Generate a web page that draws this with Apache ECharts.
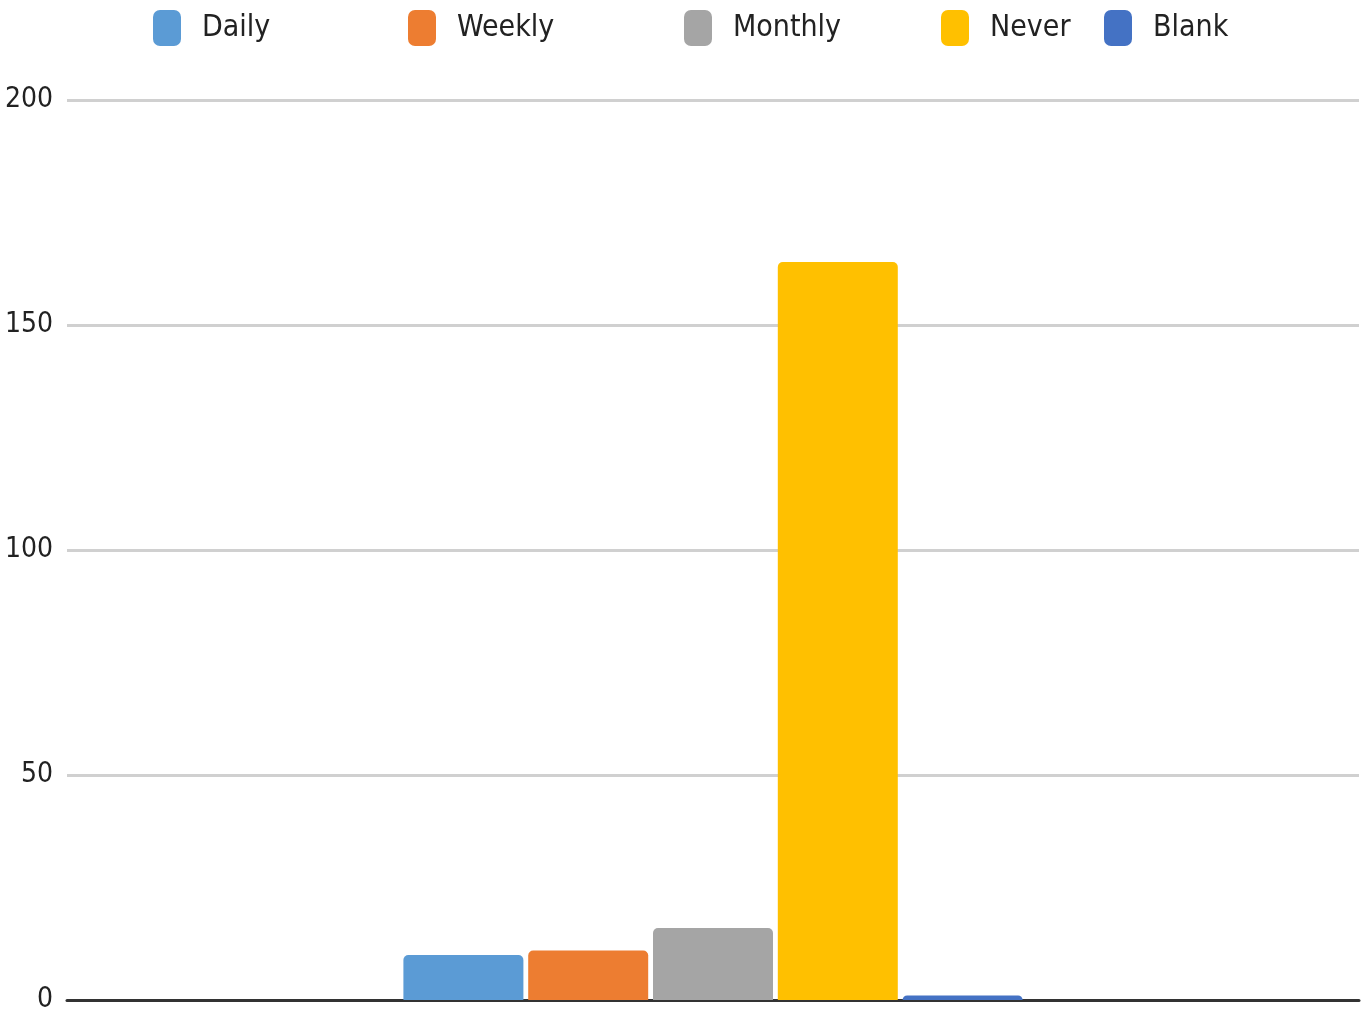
<!DOCTYPE html>
<html>
<head>
<meta charset="utf-8">
<script src="https://cdn.jsdelivr.net/npm/echarts@6/dist/echarts.min.js"></script>
<style>
  html, body { margin: 0; padding: 0; background: #fff; }
  #chart { width: 1369px; height: 1015px; }
</style>
</head>
<body>
<div id="chart"></div>
<script>
    // ========= 数据 =========
    const seriesNames = ["Daily", "Weekly", "Monthly", "Never", "Blank"];
    const seriesValues = [10, 11, 16, 164, 1];
    const seriesColors = ["#5B9BD5", "#ED7D31", "#A5A5A5", "#FFC000", "#4472C4"];
    const categories = [""];
    const yTicks = [0, 50, 100, 150, 200];

    const font = "'Liberation Sans Narrow', 'DejaVu Sans Condensed', sans-serif";

    // 图例位置（原图中间距不均匀，所以分开放）
    const legendLeft = [153, 408, 684, 941, 1104];

    const chart = echarts.init(document.getElementById("chart"));

    chart.setOption({
        animation: false,
        textStyle: { fontFamily: font },
        legend: seriesNames.map((name, i) => ({
            data: [name],
            left: legendLeft[i],
            top: 10,
            padding: 0,
            icon: "roundRect",
            itemWidth: 28,
            itemHeight: 36,
            itemGap: 0,
            textStyle: { fontSize: 30, color: "#222", fontFamily: font, padding: [4, 0, 0, 16] }
        })),
        grid: { left: 67, right: 10, top: 100, bottom: 15 },
        xAxis: {
            type: "category",
            data: categories,
            axisLine: { lineStyle: { color: "#333", width: 3 } },
            axisTick: { show: false },
            axisLabel: { show: false }
        },
        yAxis: {
            type: "value",
            min: yTicks[0],
            max: yTicks[yTicks.length - 1],
            interval: 50,
            axisLine: { show: false },
            axisTick: { show: false },
            axisLabel: { fontSize: 28, color: "#222", margin: 14, fontFamily: font, padding: [6, 0, 0, 0] },
            splitLine: { lineStyle: { color: "#d0d0d0", width: 3 } }
        },
        series: seriesNames.map((name, i) => ({
            name,
            type: "bar",
            data: [seriesValues[i]],
            barWidth: 120,
            barGap: "4%",
            itemStyle: { color: seriesColors[i], borderRadius: [5, 5, 0, 0] }
        }))
    });
</script>
</body>
</html>
